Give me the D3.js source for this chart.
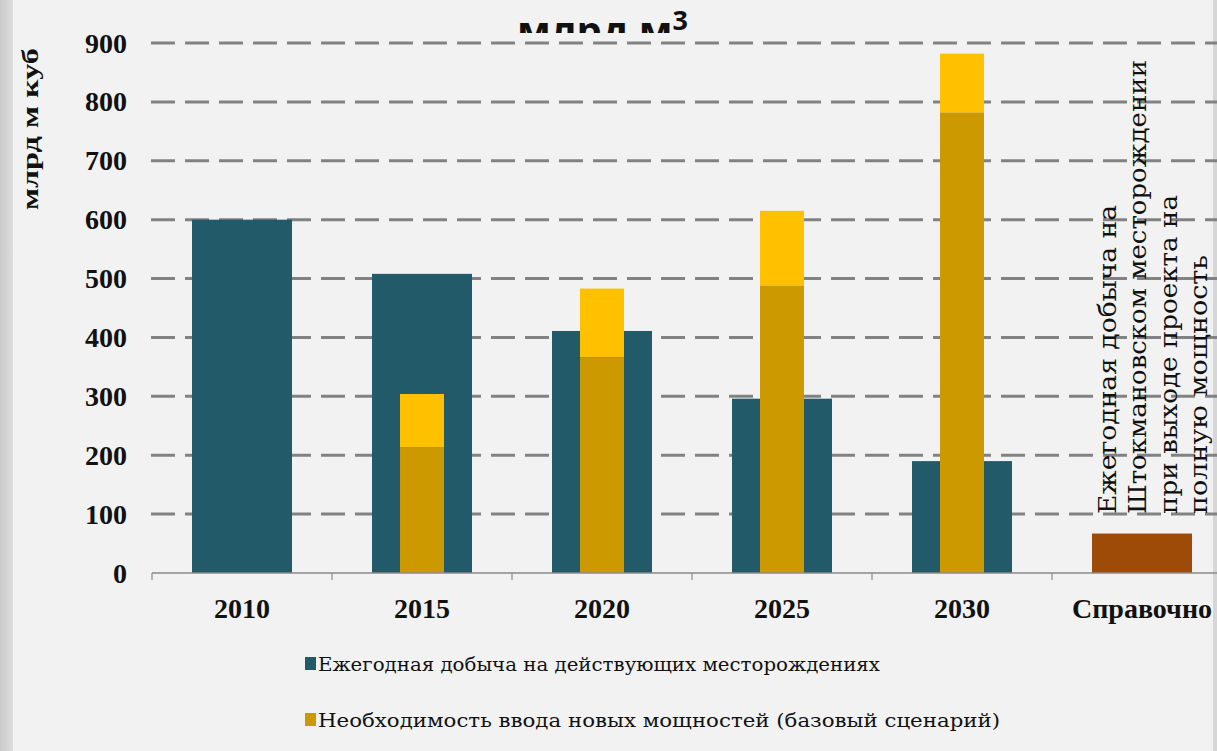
<!DOCTYPE html>
<html>
<head>
<meta charset="utf-8">
<script src="https://cdn.jsdelivr.net/npm/d3@7/dist/d3.min.js"></script>
<style>
  body { margin: 0; background: #f2f2f2; overflow: hidden; }
  svg { display: block; }
</style>
</head>
<body>
<svg id="drawing_region"></svg>
<script>
// values
const categories = ['2010', '2015', '2020', '2025', '2030', 'Справочно'];
const existing   = [600, 508, 411, 296, 190, null];
const newBase    = [null, 213, 366, 488, 782, null];
const newHigh    = [null, 304, 483, 615, 882, null];
const shtokman   = [null, null, null, null, null, 67];
const yTicks     = [0, 100, 200, 300, 400, 500, 600, 700, 800, 900];
const legendLabels = [
    'Ежегодная добыча на действующих месторождениях',
    'Необходимость ввода новых мощностей (базовый сценарий)'
];
const noteLines = [
    'Ежегодная добыча на',
    'Штокмановском месторождении',
    'при выходе проекта на',
    'полную мощность'
];

const W = 1217, H = 751;
const colors = { existing: '#225a69', base: '#cc9a00', high: '#ffc000', shtokman: '#9e4b07', grid: '#828282' };
const serif = '"Liberation Serif", "DejaVu Serif", serif';
const serif2 = '"DejaVu Serif", serif';

const svg = d3.select('#drawing_region').attr('width', W).attr('height', H);

// background with grey edges
const defs = svg.append('defs');
const grad = defs.append('linearGradient').attr('id', 'edge');
grad.append('stop').attr('offset', '0%').attr('stop-color', '#c9c9c9');
grad.append('stop').attr('offset', '100%').attr('stop-color', '#dedede');
svg.append('rect').attr('width', W).attr('height', H).attr('fill', '#f2f2f2');
svg.append('rect').attr('x', 0).attr('y', 0).attr('width', 13).attr('height', H).attr('fill', 'url(#edge)');
svg.append('rect').attr('x', 1213).attr('y', 0).attr('width', 4).attr('height', H).attr('fill', '#d6d6d6');

// title, cut off by the plot panel
defs.append('clipPath').attr('id', 'titleclip')
    .append('rect').attr('x', 0).attr('y', 0).attr('width', W).attr('height', 33);
const title = svg.append('text')
    .attr('clip-path', 'url(#titleclip)')
    .attr('x', 517).attr('y', 45)
    .attr('font-family', '"Open Sans", sans-serif')
    .attr('font-weight', 'bold')
    .attr('font-size', 40)
    .attr('fill', '#111');
title.append('tspan').text('млрд м');
title.append('tspan').attr('font-size', 27).attr('dy', -15).text('3');

// scales
const xscale = d3.scaleBand()
    .domain(categories)
    .range([152, 1232])
    .paddingInner(0.4444)
    .paddingOuter(0.2222);
const yscale = d3.scaleLinear().domain([0, 900]).range([573, 43]);
const bw = xscale.bandwidth();
const gap = (xscale.step() - bw) / 2;

// dashed grid
svg.append('g').selectAll('line')
    .data(yTicks.filter(d => d > 0))
    .join('line')
    .attr('x1', 151).attr('x2', W)
    .attr('y1', d => yscale(d)).attr('y2', d => yscale(d))
    .attr('stroke', colors.grid)
    .attr('stroke-width', 3)
    .attr('stroke-dasharray', '24,10');

// bars
const rows = categories.map((c, i) => ({
    c, existing: existing[i], base: newBase[i], high: newHigh[i], shtokman: shtokman[i]
}));

svg.append('g').selectAll('rect')
    .data(rows.filter(d => d.existing != null))
    .join('rect')
    .attr('x', d => xscale(d.c))
    .attr('y', d => yscale(d.existing))
    .attr('width', bw)
    .attr('height', d => yscale(0) - yscale(d.existing))
    .attr('fill', colors.existing);

const inner = svg.append('g');
inner.selectAll('rect.high')
    .data(rows.filter(d => d.high != null))
    .join('rect')
    .attr('class', 'high')
    .attr('x', d => xscale(d.c) + bw * 0.28)
    .attr('y', d => yscale(d.high))
    .attr('width', bw * 0.44)
    .attr('height', d => yscale(d.base) - yscale(d.high))
    .attr('fill', colors.high);
inner.selectAll('rect.base')
    .data(rows.filter(d => d.base != null))
    .join('rect')
    .attr('class', 'base')
    .attr('x', d => xscale(d.c) + bw * 0.28)
    .attr('y', d => yscale(d.base))
    .attr('width', bw * 0.44)
    .attr('height', d => yscale(0) - yscale(d.base))
    .attr('fill', colors.base);

svg.append('g').selectAll('rect')
    .data(rows.filter(d => d.shtokman != null))
    .join('rect')
    .attr('x', d => xscale(d.c))
    .attr('y', d => yscale(d.shtokman))
    .attr('width', bw)
    .attr('height', d => yscale(0) - yscale(d.shtokman))
    .attr('fill', colors.shtokman);

// x axis line with ticks at category boundaries
const axis = svg.append('g');
axis.append('line')
    .attr('x1', 152).attr('x2', W)
    .attr('y1', yscale(0)).attr('y2', yscale(0))
    .attr('stroke', '#8a8a8a').attr('stroke-width', 1.5);
axis.selectAll('line.tick')
    .data(categories)
    .join('line')
    .attr('class', 'tick')
    .attr('x1', d => xscale(d) - gap).attr('x2', d => xscale(d) - gap)
    .attr('y1', yscale(0)).attr('y2', yscale(0) + 7)
    .attr('stroke', '#8a8a8a').attr('stroke-width', 1.2);
axis.selectAll('text')
    .data(categories)
    .join('text')
    .attr('x', d => xscale(d) + bw / 2)
    .attr('y', 618)
    .attr('text-anchor', 'middle')
    .attr('font-family', serif)
    .attr('font-weight', 'bold')
    .attr('font-size', 28)
    .attr('fill', '#111')
    .text(d => d);

// y tick labels
svg.append('g').selectAll('text')
    .data(yTicks)
    .join('text')
    .attr('x', 127)
    .attr('y', d => yscale(d) + 9.5)
    .attr('text-anchor', 'end')
    .attr('font-family', serif)
    .attr('font-weight', 'bold')
    .attr('font-size', 28)
    .attr('fill', '#111')
    .text(d => d);

// y axis title
svg.append('text')
    .attr('transform', 'translate(38, 210) rotate(-90)')
    .attr('font-family', serif)
    .attr('font-weight', 'bold')
    .attr('font-size', 24)
    .attr('textLength', 162)
    .attr('lengthAdjust', 'spacingAndGlyphs')
    .attr('fill', '#111')
    .text('млрд м куб');

// vertical note next to the Shtokman bar
const noteX = [1116, 1146, 1177, 1207];
const noteLen = [309, 454, 319, 259];
svg.append('g').selectAll('text')
    .data(noteLines)
    .join('text')
    .attr('transform', (d, i) => `translate(${noteX[i]}, 514) rotate(-90)`)
    .attr('font-family', serif2)
    .attr('font-size', 25)
    .attr('textLength', (d, i) => noteLen[i])
    .attr('lengthAdjust', 'spacingAndGlyphs')
    .attr('fill', '#111')
    .text(d => d);

// legend
const legendColors = [colors.existing, colors.base];
const legendY = [664, 720];
const legendLen = [562, 682];
const legend = svg.append('g').selectAll('g')
    .data(legendLabels)
    .join('g')
    .attr('transform', (d, i) => `translate(305, ${legendY[i]})`);
legend.append('rect')
    .attr('x', 0).attr('y', -7)
    .attr('width', 11).attr('height', 13)
    .attr('fill', (d, i) => legendColors[i]);
legend.append('text')
    .attr('x', 13).attr('y', 7)
    .attr('font-family', serif2)
    .attr('font-size', 19)
    .attr('textLength', (d, i) => legendLen[i])
    .attr('lengthAdjust', 'spacingAndGlyphs')
    .attr('fill', '#111')
    .text(d => d);
</script>
</body>
</html>
